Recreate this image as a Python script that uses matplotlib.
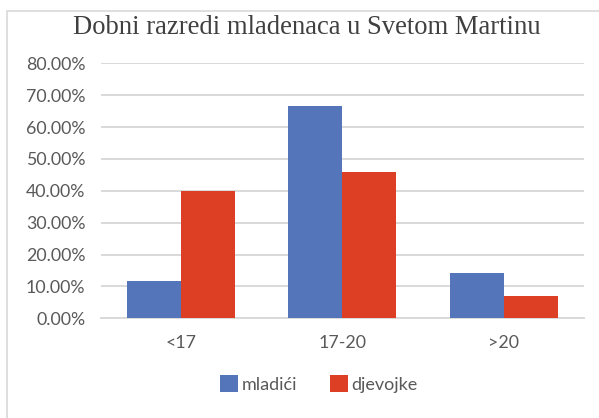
import matplotlib
matplotlib.use('Agg')
import matplotlib.pyplot as plt
from matplotlib.patches import Rectangle
from matplotlib.ticker import FuncFormatter
import numpy as np

categories = ['<17', '17-20', '>20']
mladici = [0.1176, 0.6667, 0.1429]
djevojke = [0.40, 0.46, 0.07]
series_names = ['mladići', 'djevojke']
colors = ['#5575BA', '#DC3F24']
title = 'Dobni razredi mladenaca u Svetom Martinu'

fig = plt.figure(figsize=(5.99, 4.18), dpi=100)
ax = fig.add_axes([0.168, 0.2385, 0.8075, 0.6101])

# chart border, cropped on the right and bottom like the screenshot
fig.patches.append(Rectangle((7 / 599, -0.1), 1.2, 1 - 11 / 418 + 0.1,
                             transform=fig.transFigure, fill=False,
                             edgecolor='#d9d9d9', linewidth=1.2))

x = np.arange(len(categories))
w = 0.335
ax.bar(x - w / 2, mladici, w, color=colors[0], label=series_names[0], zorder=3)
ax.bar(x + w / 2, djevojke, w, color=colors[1], label=series_names[1], zorder=3)

ax.set_xlim(-0.5, 2.5)
ax.set_ylim(0, 0.8)
ax.set_yticks(np.arange(0, 0.81, 0.1))
ax.yaxis.set_major_formatter(FuncFormatter(lambda v, p: f'{v * 100:.2f}%'))
ax.set_xticks(x)
ax.set_xticklabels(categories)
ax.grid(axis='y', color='#d9d9d9', linewidth=1.4, zorder=0)
for s in ['top', 'right', 'left']:
    ax.spines[s].set_visible(False)
ax.spines['bottom'].set_color('#d9d9d9')
ax.spines['bottom'].set_linewidth(1.4)
ax.tick_params(length=0, labelsize=12.8, labelcolor='#595959')
ax.tick_params(axis='y', pad=11)
ax.tick_params(axis='x', pad=12)
for t in ax.get_xticklabels() + ax.get_yticklabels():
    t.set_fontfamily('Lato')

fig.text(307 / 599, 1 - 28 / 418, title, ha='center', va='center',
         fontsize=19.2, family='Liberation Serif', color='#404040')

fig.legend(loc='center', bbox_to_anchor=(319 / 599, 1 - 384 / 418), ncol=2,
           frameon=False, prop={'family': 'Lato', 'size': 13},
           labelcolor='#595959', handlelength=1.0, handleheight=1.0,
           handletextpad=0.2, columnspacing=1.8)

fig.savefig('out.png', dpi=100)
